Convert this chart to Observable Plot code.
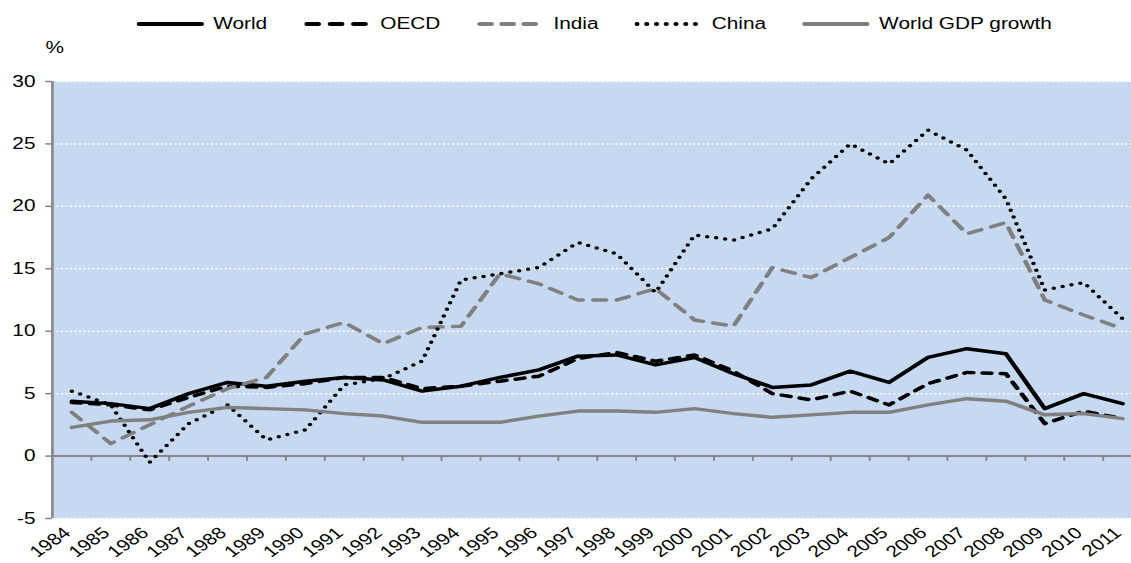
<!DOCTYPE html>
<html>
<head>
<meta charset="utf-8">
<script src="https://cdn.jsdelivr.net/npm/d3@7"></script>
<script src="https://cdn.jsdelivr.net/npm/@observablehq/plot@0.6"></script>
<style>
  html, body { margin: 0; padding: 0; background: #fff; overflow: hidden; width: 1131px; height: 563px; }
  #wrap { position: absolute; left: 0; top: 0; width: 878px; height: 563px; transform: scaleX(1.3); transform-origin: 0 0;
          font-family: "Liberation Sans", Arial, sans-serif; font-size: 16px; color: #000; }
  #legend { position: absolute; top: 14px; left: 105px; display: flex; gap: 28px; align-items: center; line-height: 20px; white-space: nowrap; }
  #legend .item { display: flex; align-items: center; }
  #legend svg { display: block; }
  #legend span { margin-left: 7px; }
  #unit { position: absolute; left: 35px; top: 38px; line-height: 20px; }
  #chart { position: absolute; left: 0; top: 60px; }
</style>
</head>
<body>
<div id="wrap">
  <div id="legend"></div>
  <div id="unit">%</div>
  <div id="chart"></div>
</div>
<script>
const years = [1984,1985,1986,1987,1988,1989,1990,1991,1992,1993,1994,1995,1996,1997,1998,1999,2000,2001,2002,2003,2004,2005,2006,2007,2008,2009,2010,2011];
const world = [4.4,4.2,3.8,5.0,5.9,5.6,6.0,6.3,6.1,5.2,5.6,6.3,6.9,8.0,8.1,7.3,7.9,6.6,5.5,5.7,6.8,5.9,7.9,8.6,8.2,3.8,5.0,4.2];
const oecd  = [4.3,4.1,3.7,4.7,5.6,5.5,5.8,6.3,6.3,5.4,5.6,6.0,6.4,7.8,8.3,7.6,8.1,6.8,5.0,4.5,5.2,4.1,5.8,6.7,6.6,2.6,3.6,3.0];
const india = [3.5,1.0,2.5,4.0,5.4,6.3,9.8,10.7,9.0,10.3,10.4,14.6,13.8,12.5,12.5,13.4,10.9,10.4,15.1,14.3,15.9,17.5,20.9,17.8,18.7,12.5,11.3,10.2];
const china = [5.2,4.1,-0.5,2.6,4.1,1.3,2.1,5.7,6.2,7.6,14.1,14.6,15.1,17.1,16.2,13.1,17.7,17.3,18.2,22.2,25.0,23.4,26.1,24.5,20.6,13.3,13.9,11.0];
const gdp   = [2.3,2.8,2.9,3.5,3.9,3.8,3.7,3.4,3.2,2.7,2.7,2.7,3.2,3.6,3.6,3.5,3.8,3.4,3.1,3.3,3.5,3.5,4.1,4.6,4.4,3.3,3.4,3.0];
const yTicks = [-5,0,5,10,15,20,25,30];
const gridLevels = [-5,5,10,15,20,25,30];

const seriesNames = ["World","OECD","India","China","World GDP growth"];
const seriesValues = [world, oecd, india, china, gdp];
const styles = {
  "World": {stroke: "#000000", dash: null},
  "OECD": {stroke: "#000000", dash: "7,7"},
  "India": {stroke: "#808080", dash: "10,8"},
  "China": {stroke: "#000000", dash: "0,7"},
  "World GDP growth": {stroke: "#808080", dash: null}
};

const rows = (vals) => years.map((y, i) => ({year: y, value: vals[i]}));
const axisGray = "#868686";
const blue = "#c6d9f1";
const sw = 3.5;

const lineMarks = seriesNames.map((name, k) => Plot.line(rows(seriesValues[k]), {
  x: "year", y: "value", stroke: styles[name].stroke, strokeWidth: sw,
  strokeDasharray: styles[name].dash || undefined, strokeLinecap: "round", strokeLinejoin: "round"
}));

const between = years.slice(0, -1).map(y => y + 0.5);

const plot = Plot.plot({
  width: 878,
  height: 503,
  marginTop: 21,
  marginBottom: 45,
  marginLeft: 39.8,
  marginRight: 0,
  style: {fontFamily: "'Liberation Sans', Arial, sans-serif", fontSize: "16px", color: "#000", background: "transparent", overflow: "visible"},
  x: {type: "linear", domain: [1983.5, 2011.5], axis: null},
  y: {domain: [-5, 30], axis: null},
  marks: [
    Plot.frame({fill: blue, stroke: null}),
    Plot.ruleY(gridLevels, {stroke: "#ffffff", strokeWidth: 1.5, strokeDasharray: "1.5,2"}),
    Plot.ruleY([0], {stroke: axisGray, strokeWidth: 2}),
    Plot.ruleX(between, {y1: 0, y2: -0.42, stroke: axisGray, strokeWidth: 1.5}),
    Plot.ruleX([1983.5], {y1: -5, y2: 30, stroke: axisGray, strokeWidth: 2}),
    Plot.axisY({ticks: yTicks, tickSize: 5, tickPadding: 8, stroke: axisGray, strokeWidth: 1.5, label: null, tickFormat: d => String(d), fill: "#000"}),
    Plot.text(years, {x: d => d, frameAnchor: "bottom", text: d => String(d), rotate: -42, textAnchor: "end", lineAnchor: "middle", dx: -3.4, dy: 12, fill: "#000"}),
    ...lineMarks
  ]
});
document.getElementById("chart").appendChild(plot);

// Legend
const legend = document.getElementById("legend");
seriesNames.forEach(name => {
  const item = document.createElement("div");
  item.className = "item";
  const s = styles[name];
  const ns = "http://www.w3.org/2000/svg";
  const svg = document.createElementNS(ns, "svg");
  svg.setAttribute("width", 52); svg.setAttribute("height", 10);
  const ln = document.createElementNS(ns, "line");
  ln.setAttribute("x1", 2); ln.setAttribute("x2", 50); ln.setAttribute("y1", 5); ln.setAttribute("y2", 5);
  ln.setAttribute("stroke", s.stroke); ln.setAttribute("stroke-width", 4); ln.setAttribute("stroke-linecap", "round");
  if (s.dash) ln.setAttribute("stroke-dasharray", s.dash === "0,7" ? "0,7.5" : (s.dash === "7,7" ? "9,9" : "9,8"));
  svg.appendChild(ln);
  const t = document.createElement("span");
  t.textContent = name;
  item.appendChild(svg); item.appendChild(t);
  legend.appendChild(item);
});
</script>
</body>
</html>
